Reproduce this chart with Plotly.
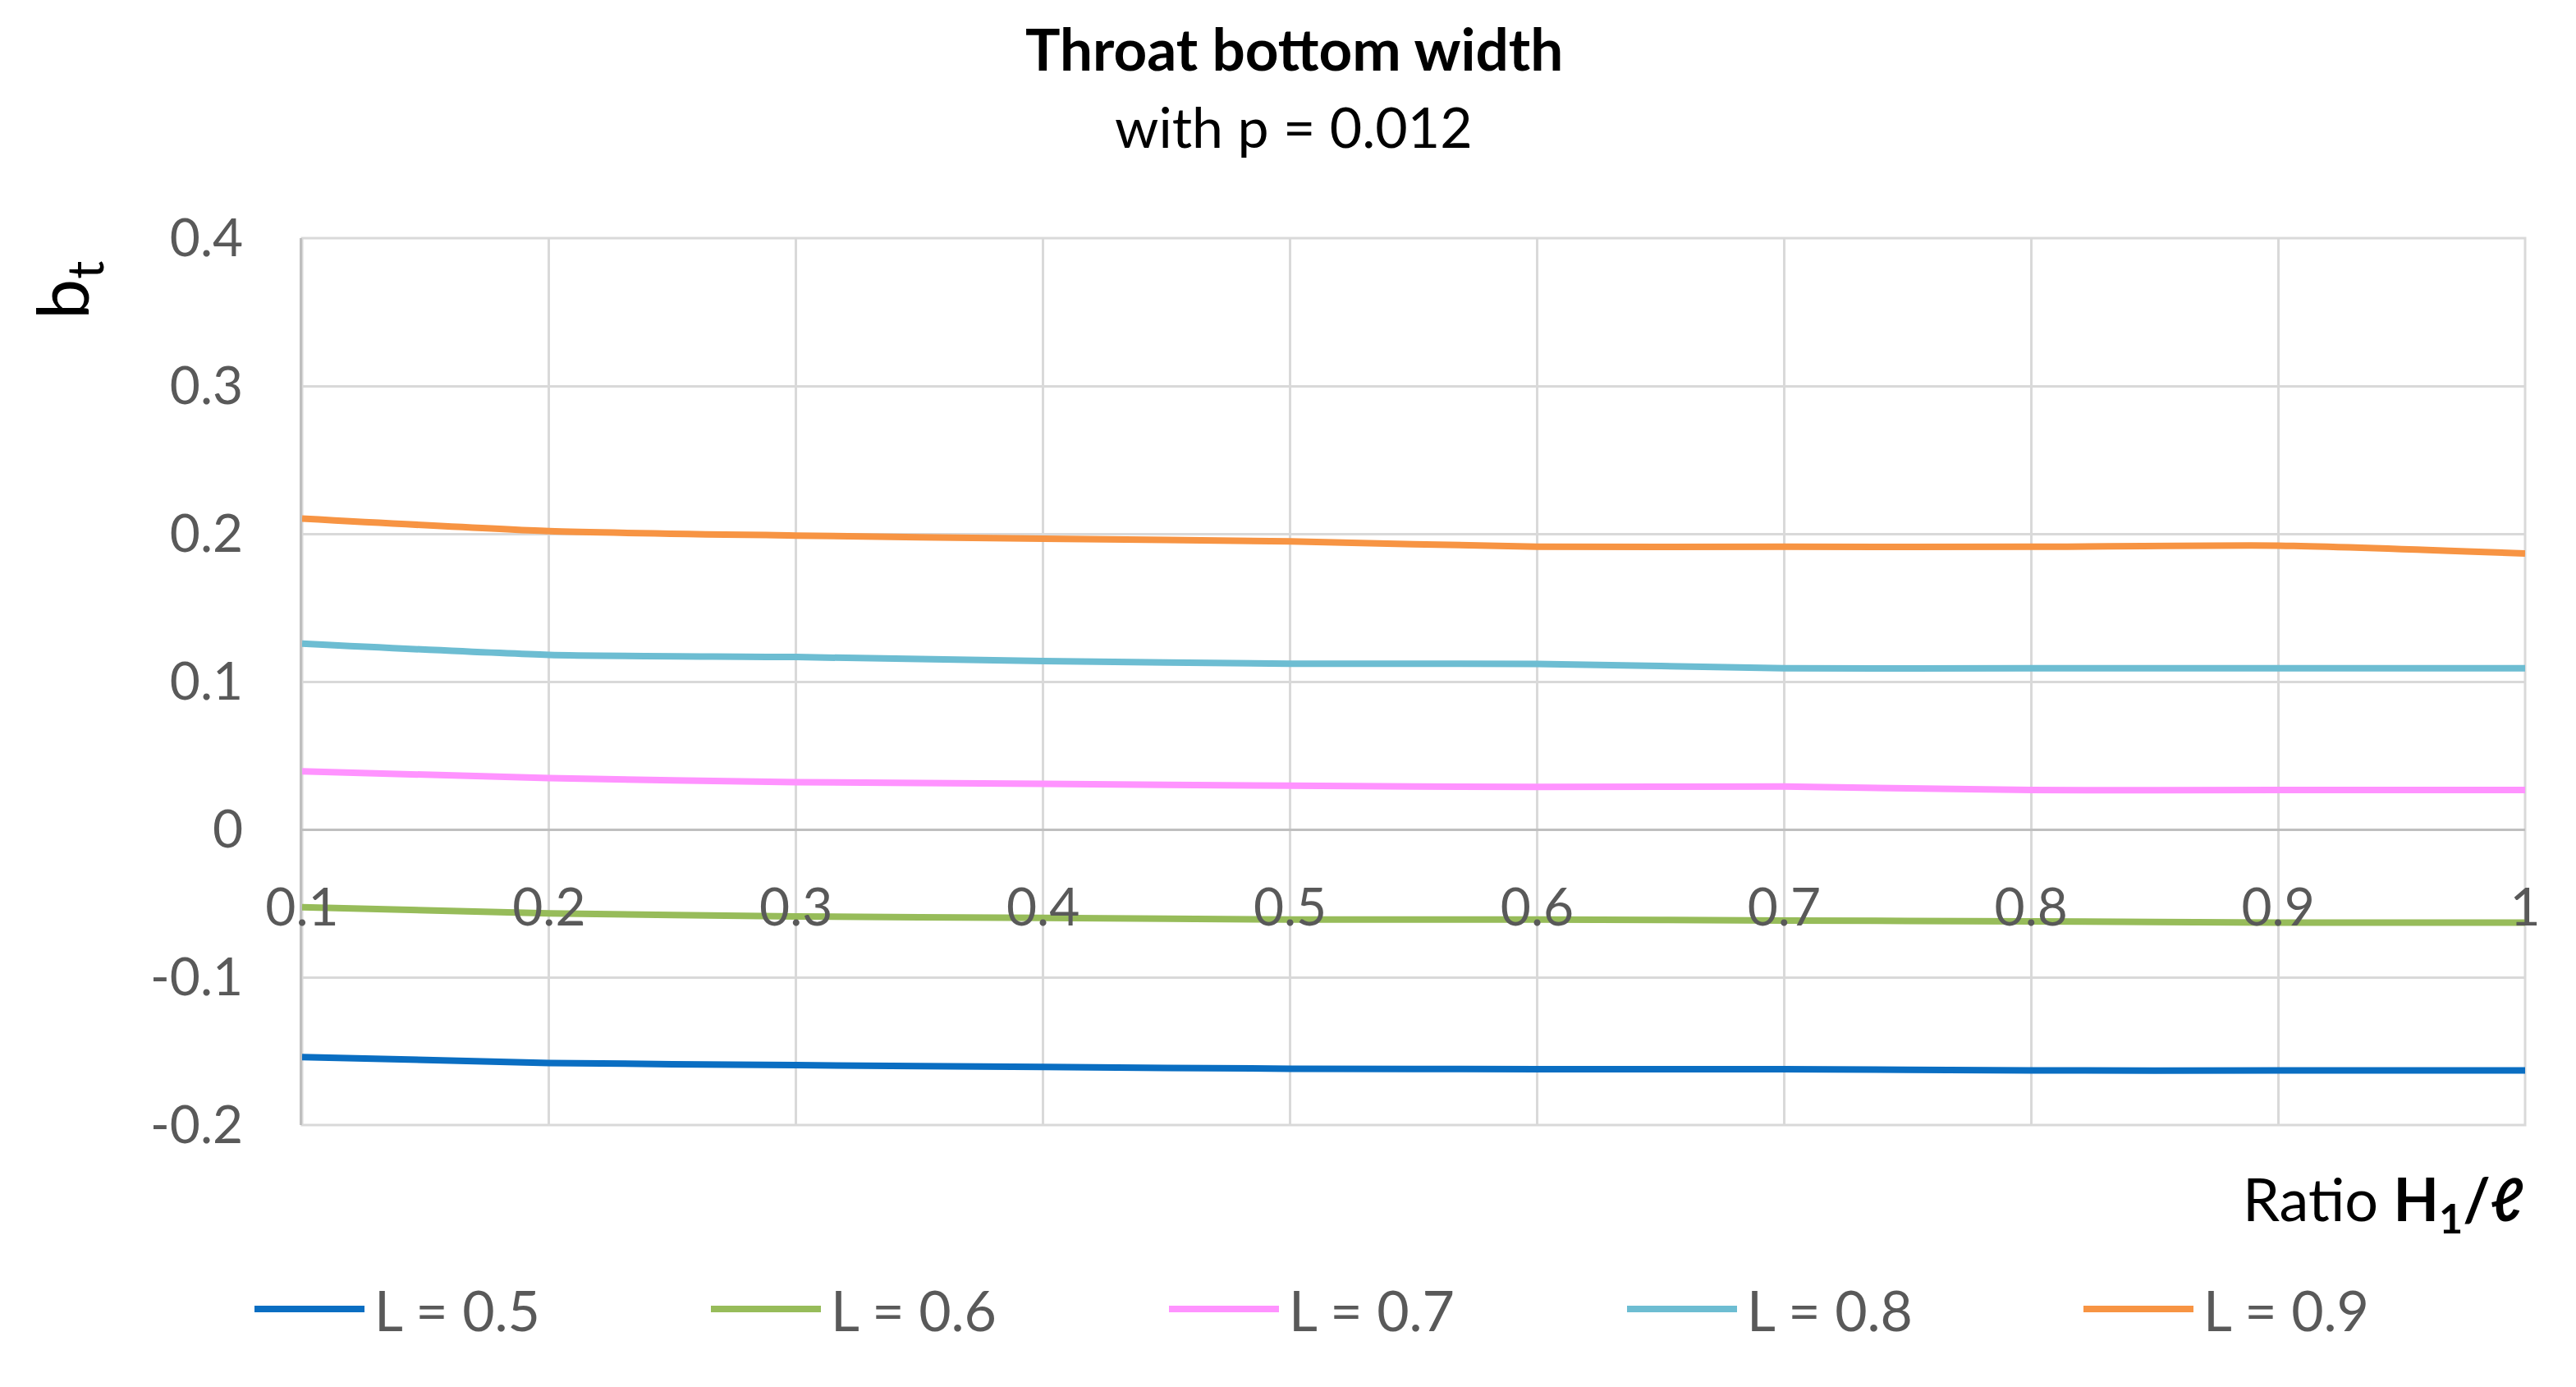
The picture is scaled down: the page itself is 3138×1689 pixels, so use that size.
import plotly.graph_objects as go

ratio_h1_l = [0.1, 0.2, 0.3, 0.4, 0.5, 0.6, 0.7, 0.8, 0.9, 1.0]
series_names = ["L = 0.5", "L = 0.6", "L = 0.7", "L = 0.8", "L = 0.9"]
bt_L05 = [-0.154, -0.158, -0.1595, -0.1607, -0.1619, -0.1622, -0.1622, -0.1631, -0.1631, -0.1631]
bt_L06 = [-0.0526, -0.0568, -0.0589, -0.0598, -0.0610, -0.0610, -0.0616, -0.0622, -0.0631, -0.0631]
bt_L07 = [0.0393, 0.0347, 0.0320, 0.0308, 0.0296, 0.0287, 0.0290, 0.0266, 0.0266, 0.0266]
bt_L08 = [0.1257, 0.1181, 0.1166, 0.1139, 0.1121, 0.1120, 0.1090, 0.1090, 0.1090, 0.1090]
bt_L09 = [0.2103, 0.2018, 0.1988, 0.1967, 0.1949, 0.1912, 0.1912, 0.1912, 0.1920, 0.1867]
colors = ["#0A6EC2", "#97BC5A", "#FF93FF", "#6DBDD2", "#F79443"]

x_ticks = [0.1, 0.2, 0.3, 0.4, 0.5, 0.6, 0.7, 0.8, 0.9, 1.0]
x_ticktext = ["0.1", "0.2", "0.3", "0.4", "0.5", "0.6", "0.7", "0.8", "0.9", "1"]
y_ticks = [-0.2, -0.1, 0, 0.1, 0.2, 0.3, 0.4]
y_ticktext = ["-0.2", "-0.1", "0", "0.1", "0.2", "0.3", "0.4"]

W, H = 3138, 1689
OFF = 8  # page body margin offset
# desired screen plot-area edges: left 368, right 3076, top 290, bottom 1370
ML = 368 - OFF
MR = W - (3076 - OFF)
MT = 290 - OFF
MB = H - (1370 - OFF)
FONT = "Lato"
TICKC = "#595959"

fig = go.Figure()
all_series = [bt_L05, bt_L06, bt_L07, bt_L08, bt_L09]
for name, ys, c in zip(series_names, all_series, colors):
    fig.add_trace(go.Scatter(x=ratio_h1_l, y=ys, mode="lines", name=name,
                             line=dict(color=c, width=8, shape="spline", smoothing=0.6),
                             showlegend=False))

fig.update_layout(
    width=W, height=H,
    margin=dict(l=ML, r=MR, t=MT, b=MB, autoexpand=False),
    paper_bgcolor="white", plot_bgcolor="white",
    font=dict(family=FONT, size=64, color=TICKC),
    xaxis=dict(range=[0.1, 1.0], tickvals=x_ticks, ticktext=x_ticktext,
               showgrid=True, gridcolor="#D9D9D9", gridwidth=3,
               anchor="free", position=1/3, showline=False, zeroline=False,
               ticks="", ticklabelstandoff=52,
               tickfont=dict(family=FONT, size=64, color=TICKC)),
    yaxis=dict(range=[-0.2, 0.4], tickvals=y_ticks, ticktext=y_ticktext,
               showgrid=True, gridcolor="#D9D9D9", gridwidth=3,
               zeroline=True, zerolinecolor="#BFBFBF", zerolinewidth=3,
               showline=True, linecolor="#BFBFBF", linewidth=3,
               ticks="", ticklabelstandoff=56,
               tickfont=dict(family=FONT, size=64, color=TICKC)),
)

plot_h = H - MT - MB
plot_w = W - ML - MR
def px_to_paper_x(px):
    return (px - OFF - ML) / plot_w
def px_to_paper_y(py):
    return (H - MB - (py - OFF)) / plot_h

annotations = [
    dict(text="<b>Throat bottom width</b>", x=px_to_paper_x(1576), y=px_to_paper_y(58),
         xref="paper", yref="paper", xanchor="center", yanchor="middle",
         showarrow=False, font=dict(family=FONT, size=71, color="black")),
    dict(text="with p = 0.012", x=px_to_paper_x(1576), y=px_to_paper_y(154),
         xref="paper", yref="paper", xanchor="center", yanchor="middle",
         showarrow=False, font=dict(family=FONT, size=68, color="black")),
    dict(text="Ratio <b>H<sub>1</sub>/<i>ℓ</i></b>", x=px_to_paper_x(3076),
         y=px_to_paper_y(1464), xref="paper", yref="paper",
         xanchor="right", yanchor="middle", showarrow=False,
         font=dict(family=FONT, size=72, color="black")),
    dict(text="b<sub>t</sub>", x=px_to_paper_x(80), y=px_to_paper_y(354),
         xref="paper", yref="paper", textangle=-90,
         xanchor="center", yanchor="middle", showarrow=False,
         font=dict(family=FONT, size=88, color="black")),
]

shapes = [dict(type="rect", xref="paper", yref="paper", x0=0, x1=1, y0=0, y1=1,
               line=dict(color="#D9D9D9", width=3), layer="below")]
leg_x0 = [310, 866, 1424, 1982, 2538]
leg_y = 1594
for name, c, lx in zip(series_names, colors, leg_x0):
    shapes.append(dict(type="line", xref="paper", yref="paper",
                       x0=px_to_paper_x(lx), x1=px_to_paper_x(lx + 134),
                       y0=px_to_paper_y(leg_y), y1=px_to_paper_y(leg_y),
                       line=dict(color=c, width=8)))
    annotations.append(dict(text=name, x=px_to_paper_x(lx + 144), y=px_to_paper_y(leg_y),
                            xref="paper", yref="paper", xanchor="left", yanchor="middle",
                            showarrow=False, font=dict(family=FONT, size=68, color=TICKC)))

fig.update_layout(annotations=annotations, shapes=shapes)
fig.write_html("out.html")
